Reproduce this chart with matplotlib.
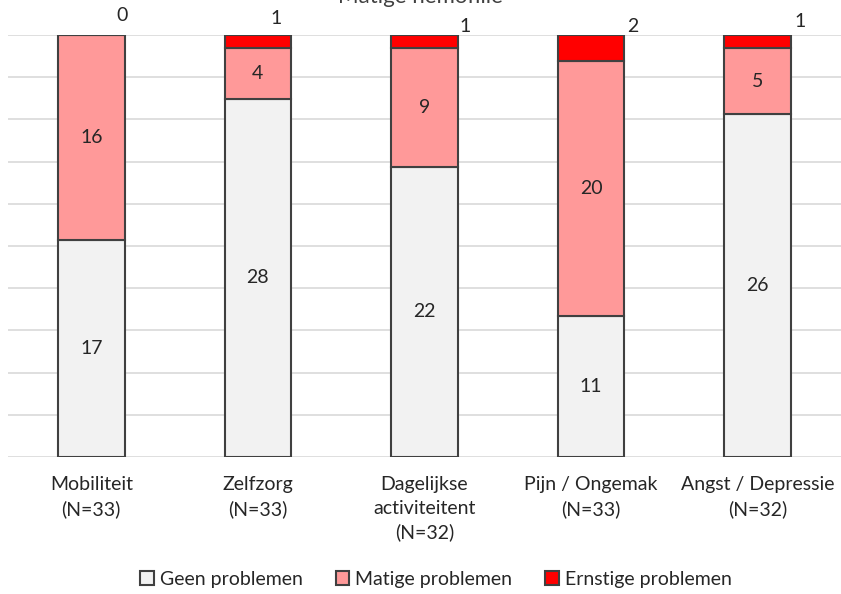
import matplotlib.pyplot as plt
import numpy as np

# Data
categories = ['Mobiliteit\n(N=33)', 'Zelfzorg\n(N=33)', 'Dagelijkse\nactiviteitent\n(N=32)',
              'Pijn / Ongemak\n(N=33)', 'Angst / Depressie\n(N=32)']
geen = [17, 28, 22, 11, 26]
matige = [16, 4, 9, 20, 5]
ernstige = [0, 1, 1, 2, 1]
series_names = ['Geen problemen', 'Matige problemen', 'Ernstige problemen']
colors = ['#F2F2F2', '#FF9999', '#FF0000']

plt.rcParams['font.family'] = ['Lato', 'DejaVu Sans']

totals = np.array(geen) + np.array(matige) + np.array(ernstige)
pg = np.array(geen) / totals * 100
pm = np.array(matige) / totals * 100
pe = np.array(ernstige) / totals * 100

fig = plt.figure(figsize=(8.41, 5.94), dpi=100)
ax = fig.add_axes([8 / 841, 137 / 594, 833 / 841, 422 / 594])
x = np.arange(len(categories))

edge = '#404040'
ax.bar(x, pg, 0.4, color=colors[0], edgecolor=edge, linewidth=1.5, label=series_names[0], zorder=3)
ax.bar(x, pm, 0.4, bottom=pg, color=colors[1], edgecolor=edge, linewidth=1.5, label=series_names[1], zorder=3)
ax.bar(x, pe, 0.4, bottom=pg + pm, color=colors[2], edgecolor=edge, linewidth=1.5, label=series_names[2], zorder=3)

txt = '#262626'
# labels inside segments
for i in range(len(categories)):
    ax.text(x[i], pg[i] / 2, str(geen[i]), ha='center', va='center', fontsize=14, color=txt, zorder=4)
    ax.text(x[i], pg[i] + pm[i] / 2, str(matige[i]), ha='center', va='center', fontsize=14, color=txt, zorder=4)

# labels for the top segment (sit above the bars, shifted right)
top_dx = [0.184, 0.108, 0.243, 0.25, 0.254]
top_y = [104.7, 104.0, 102.1, 101.9, 103.1]
for i in range(len(categories)):
    ax.text(x[i] + top_dx[i], top_y[i], str(ernstige[i]), ha='center', va='center',
            fontsize=14, color=txt, clip_on=False)

ax.set_xlim(-0.5, 4.5)
ax.set_ylim(0, 100)
ax.set_yticks(np.arange(0, 101, 10))
ax.set_yticklabels([])
ax.tick_params(axis='y', length=0)
ax.tick_params(axis='x', length=0, pad=14)
ax.grid(axis='y', color='#D9D9D9', linewidth=1.2, zorder=0)
for s in ax.spines.values():
    s.set_visible(False)
ax.set_xticks(x)
ax.set_xticklabels(categories, fontsize=14, color=txt, linespacing=1.45)

# title sits mostly above the top edge, as in the original
fig.text(0.5, 1.005, 'Matige hemofilie', ha='center', va='center', fontsize=16, color='#404040')

ax.legend(loc='center', bbox_to_anchor=(428 / 833, -122 / 422), ncol=3, frameon=False,
          fontsize=14, handlelength=0.7, handleheight=0.7, handletextpad=0.3, columnspacing=1.7,
          labelcolor=txt)

fig.savefig('out.png', dpi=100)
